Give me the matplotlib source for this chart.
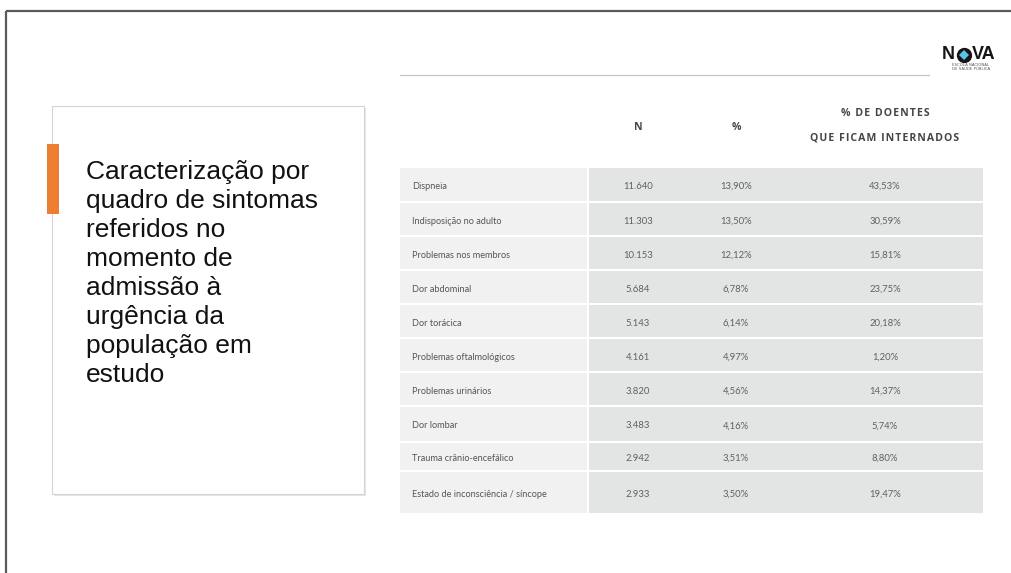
import matplotlib
matplotlib.use('Agg')
import matplotlib.pyplot as plt
from matplotlib.patches import Rectangle

# table data
sintomas = ["Dispneia", "Indisposição no adulto", "Problemas nos membros",
            "Dor abdominal", "Dor torácica", "Problemas oftalmológicos",
            "Problemas urinários", "Dor lombar", "Trauma crânio-encefálico",
            "Estado de inconsciência / síncope"]
n_doentes = ["11.640", "11.303", "10.153", "5.684", "5.143", "4.161",
             "3.820", "3.483", "2.942", "2.933"]
pct_doentes = ["13,90%", "13,50%", "12,12%", "6,78%", "6,14%", "4,97%",
               "4,56%", "4,16%", "3,51%", "3,50%"]
pct_internados = ["43,53%", "30,59%", "15,81%", "23,75%", "20,18%", "1,20%",
                  "14,37%", "5,74%", "8,80%", "19,47%"]
col_headers = [["N"], ["%"], ["% DE DOENTES", "QUE FICAM INTERNADOS"]]
titulo = ["Caracterização por", "quadro de sintomas", "referidos no",
          "momento de", "admissão à", "urgência da", "população em", "estudo"]

# layout (pixels)
W, H = 1012, 573
row_h = [35, 34, 34, 34, 34, 34, 34, 36, 29, 43]
tab_x0, tab_x1, tab_top = 400, 983, 168
col1_end = 587
col_centers = [638, 736, 885]

fig = plt.figure(figsize=(W / 100, H / 100), dpi=100)
ax = fig.add_axes([0, 0, 1, 1])
ax.set_xlim(0, W)
ax.set_ylim(H, 0)
ax.axis('off')

# slide frame
ax.plot([6, W], [11, 11], color='#5a5a5a', lw=1.6, solid_capstyle='butt')
ax.plot([6.5, 6.5], [11, H], color='#5a5a5a', lw=1.6, solid_capstyle='butt')

# left text box with shadow
ax.add_patch(Rectangle((54, 108), 312, 388, fc='#e6e6e6', ec='none'))
ax.add_patch(Rectangle((52, 106), 312, 388, fc='white', ec='#d4d4d4', lw=0.8))
ax.add_patch(Rectangle((47, 144), 12, 70, fc='#ed7d31', ec='none'))
for i, line in enumerate(titulo):
    ax.text(86, 172 + i * 29, line, fontsize=19, family='Liberation Sans',
            color='#111111', va='center', ha='left')

# header rule and logo
ax.plot([400, 929], [75, 75], color='#c4c4c4', lw=0.9)
ax.text(942, 54.5, "N", fontsize=13, fontweight='bold', family='Liberation Sans',
        color='#151515', va='center', ha='left')
ax.plot(964, 54.5, marker='o', ms=10, color='#151515')
ax.plot(964, 54.5, marker='D', ms=5.5, color='#5cc3ea', mew=0)
ax.text(972, 54.5, "VA", fontsize=13, fontweight='bold', family='Liberation Sans',
        color='#151515', va='center', ha='left')
ax.text(952, 65, "ESCOLA NACIONAL", fontsize=2.8, color='#555555', va='center', ha='left')
ax.text(952, 69, "DE SAÚDE PÚBLICA", fontsize=2.8, color='#555555', va='center', ha='left')

# column headers (letter spaced)
hair = '\u200a'
for cx, hdr in zip(col_centers, col_headers):
    ys = [127] if len(hdr) == 1 else [114, 138]
    for yy, txt in zip(ys, hdr):
        ax.text(cx, yy, hair.join(txt), fontsize=7.6, fontweight='bold',
                family=['Open Sans', 'DejaVu Sans'], color='#454545',
                ha='center', va='center')

# table body
y = tab_top
for i, lab in enumerate(sintomas):
    h = row_h[i]
    ax.add_patch(Rectangle((tab_x0, y), col1_end - tab_x0, h - 2, fc='#f1f1f1', ec='none'))
    ax.add_patch(Rectangle((col1_end + 2, y), tab_x1 - col1_end - 2, h - 2, fc='#e3e5e5', ec='none'))
    yc = y + h / 2 + 1
    ax.text(412, yc, lab, fontsize=6.6, family='Lato', color='#555555', ha='left', va='center')
    for cx, v in zip(col_centers, [n_doentes[i], pct_doentes[i], pct_internados[i]]):
        ax.text(cx, yc, v, fontsize=6.8, family='Lato', color='#606060', ha='center', va='center')
    y += h

fig.savefig('out.png', dpi=100)
